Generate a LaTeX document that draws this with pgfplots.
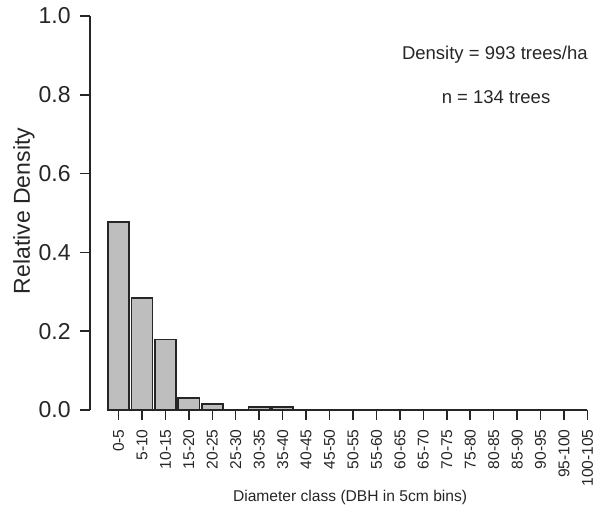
\documentclass[border=0pt]{standalone}
\usepackage{pgfplots}
\pgfplotsset{compat=1.18}
\usepackage{fontspec}
\setmainfont{Liberation Sans}
\definecolor{barfill}{HTML}{BEBEBE}
\definecolor{edge}{HTML}{262626}
\begin{document}
\begin{tikzpicture}
\useasboundingbox (-45pt,-49.5pt) rectangle (255pt,205pt);
\begin{axis}[
  at={(0,0)}, anchor=south west,
  x=11.725pt, y=197pt,
  xmin=-1.215, xmax=20.49, ymin=0, ymax=1,
  axis x line=bottom, axis y line=left,
  axis line style={-, draw=edge, line width=0.75pt},
  x axis line style={draw=none},
  tick align=outside, major tick length=5pt,
  every tick/.style={draw=edge, line width=0.75pt},
  xtick={0,...,20},
  xticklabels={0-5,5-10,10-15,15-20,20-25,25-30,30-35,35-40,40-45,45-50,50-55,55-60,60-65,65-70,70-75,75-80,80-85,85-90,90-95,95-100,100-105},
  ytick={0,0.2,0.4,0.6,0.8,1.0},
  /pgf/number format/assume math mode=true,
  yticklabel style={/pgf/number format/.cd, fixed, fixed zerofill, precision=1, /tikz/.cd,
    font=\fontsize{11.5}{13}\selectfont, anchor=east, inner sep=0pt, xshift=-4.5pt, text=black!85},
  xticklabel style={rotate=90, anchor=east, inner sep=0pt, xshift=-4.5pt, font=\fontsize{7.8}{9}\selectfont, text=black!85},
  ylabel={Relative Density},
  every axis y label/.style={at={(axis description cs:0,0.505)}, xshift=-33pt, rotate=90, anchor=center,
    font=\fontsize{11.5}{13}\selectfont, text=black!85},
  xlabel={Diameter class (DBH in 5cm bins)},
  every axis x label/.style={at={(axis description cs:0.511,-0.2208)}, anchor=center,
    font=\fontsize{7.8}{9}\selectfont, text=black!85},
  clip=false,
]
\addplot[ybar, bar width=0.9, fill=barfill, draw=edge, line width=0.8pt]
  coordinates {(0,0.4776) (1,0.2836) (2,0.1791) (3,0.0299) (4,0.0149) (6,0.0075) (7,0.0075)};
\draw[edge, line width=0.75pt] (axis cs:-0.45,0) -- (axis cs:20,0);
\node[font=\fontsize{9.25}{11}\selectfont, text=black!85] at (axis cs:16.05,0.901) {Density = 993 trees/ha};
\node[font=\fontsize{9.25}{11}\selectfont, text=black!85] at (axis cs:16.1,0.794) {n = 134 trees};
\end{axis}
\end{tikzpicture}
\end{document}
